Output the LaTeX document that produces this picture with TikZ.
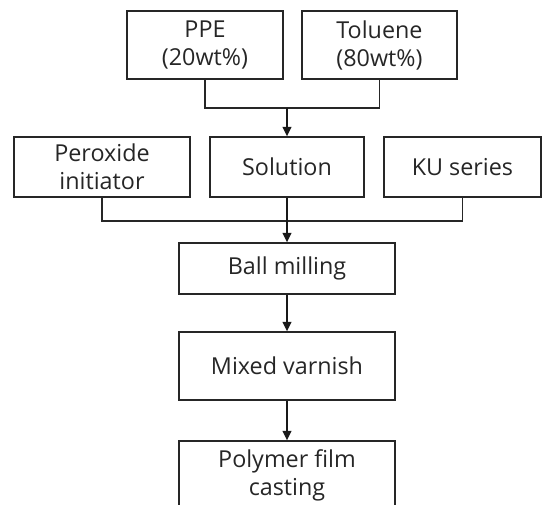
\documentclass[tikz,border=0pt]{standalone}
\usepackage{fontspec}
\setmainfont{Open Sans}
\usetikzlibrary{arrows.meta}

\tikzset{
  box/.style={draw=black!85, line width=1pt, inner sep=0pt, align=center,
    text=black!85, font=\fontsize{17.5}{21}\selectfont},
  flow/.style={draw=black!90, line width=1pt, -{Triangle[width=6.5pt,length=7pt]}},
  link/.style={draw=black!85, line width=1pt},
}

\begin{document}
\begin{tikzpicture}[x=0.75pt,y=0.75pt,yscale=-1,xscale=1]
\useasboundingbox (0,0) rectangle (543,505);
\clip (0,0) rectangle (543,505);

%Shape: Rectangle [top row]
\node [box, minimum width=117pt, minimum height=51pt] (ppe) at (205,45) {PPE\\(20wt\%)};
\node [box, minimum width=116.25pt, minimum height=51pt] (toluene) at (379.5,45) {Toluene\\(80wt\%)};

%Shape: Rectangle [middle row]
\node [box, minimum width=132pt, minimum height=45pt] (peroxide) at (102,167) {Peroxide\\initiator};
\node [box, minimum width=115.5pt, minimum height=45pt] (solution) at (287,167) {Solution};
\node [box, minimum width=117.75pt, minimum height=45pt] (ku) at (462.5,167) {KU series};

%Shape: Rectangle [process]
\node [box, minimum width=162pt, minimum height=38.25pt] (ball) at (287,268.5) {Ball milling};
\node [box, minimum width=162pt, minimum height=51pt] (varnish) at (287,366) {Mixed varnish};
\node [box, minimum width=162pt, minimum height=51pt] (casting) at (287,475) {Polymer film\\casting};

%Junctions
\coordinate (mixA) at (287,108);
\coordinate (mixB) at (287,221);

%Straight Lines
\draw [link] (ppe.south) |- (mixA) -| (toluene.south);
\draw [flow] (mixA) -- (solution.north);
%Straight Lines
\draw [link] (peroxide.south) |- (mixB) -| (ku.south);
\draw [flow] (solution.south) -- (ball.north);
%Straight Lines
\draw [flow] (ball.south) -- (varnish.north);
\draw [flow] (varnish.south) -- (casting.north);
\end{tikzpicture}
\end{document}
